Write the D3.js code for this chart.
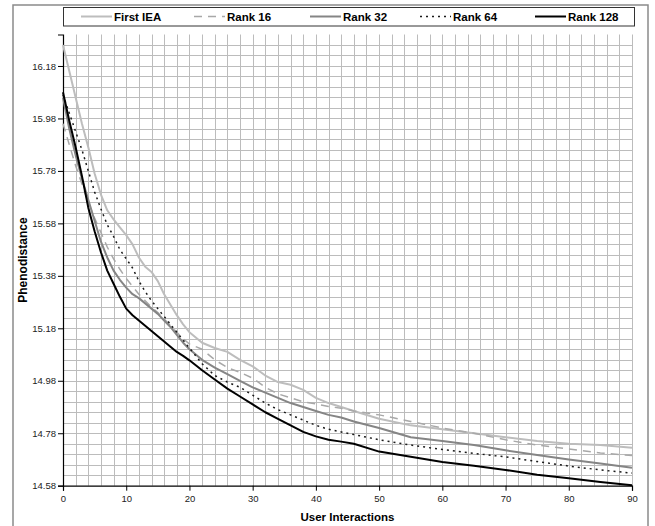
<!DOCTYPE html>
<html><head><meta charset="utf-8">
<script src="https://cdn.jsdelivr.net/npm/d3@7"></script>
<style>body{margin:0;background:#fff}svg{display:block}text{font-family:"Liberation Sans",Arial,sans-serif}</style>
</head><body><svg id="c" width="655" height="526"></svg>
<script>
const interactions = [0,1,2,3,4,5,6,7,8,9,10,11,12,13,14,15,16,17,18,19,20,22,24,26,28,30,32,34,36,38,40,42,44,46,50,55,60,65,70,75,80,85,90];
const firstIEA = [16.26,16.16,16.06,15.96,15.87,15.77,15.69,15.63,15.595,15.565,15.535,15.50,15.45,15.415,15.395,15.36,15.31,15.27,15.23,15.195,15.165,15.125,15.105,15.09,15.06,15.035,15.0,14.975,14.965,14.945,14.915,14.895,14.88,14.865,14.835,14.81,14.795,14.78,14.765,14.75,14.74,14.735,14.725];
const rank16 = [15.96,15.88,15.80,15.73,15.66,15.60,15.545,15.49,15.445,15.405,15.37,15.34,15.31,15.285,15.26,15.24,15.215,15.19,15.165,15.14,15.12,15.10,15.06,15.03,15.012,14.99,14.955,14.93,14.915,14.90,14.892,14.882,14.875,14.865,14.85,14.825,14.80,14.78,14.755,14.735,14.72,14.705,14.695];
const rank32 = [16.06,15.94,15.84,15.75,15.67,15.59,15.51,15.45,15.40,15.365,15.335,15.31,15.295,15.275,15.255,15.235,15.21,15.185,15.155,15.125,15.10,15.06,15.03,15.005,14.98,14.955,14.935,14.915,14.895,14.88,14.865,14.85,14.84,14.825,14.80,14.765,14.75,14.735,14.715,14.697,14.68,14.665,14.648];
const rank64 = [16.07,16.0,15.93,15.86,15.78,15.70,15.635,15.575,15.53,15.48,15.445,15.41,15.36,15.32,15.285,15.255,15.225,15.195,15.165,15.135,15.105,15.045,15.0,14.975,14.955,14.925,14.895,14.87,14.85,14.83,14.81,14.795,14.785,14.775,14.755,14.735,14.718,14.703,14.69,14.672,14.655,14.64,14.628];
const rank128 = [16.08,15.97,15.87,15.76,15.64,15.55,15.47,15.40,15.35,15.30,15.255,15.23,15.21,15.19,15.17,15.15,15.13,15.11,15.09,15.075,15.058,15.02,14.985,14.95,14.92,14.89,14.86,14.835,14.81,14.785,14.768,14.755,14.748,14.74,14.71,14.69,14.67,14.656,14.64,14.622,14.608,14.594,14.582];
const seriesNames = ["First IEA","Rank 16","Rank 32","Rank 64","Rank 128"];
const yTickLabels = ["14.58","14.78","14.98","15.18","15.38","15.58","15.78","15.98","16.18"];
const xTickLabels = [0,10,20,30,40,50,60,70,80,90];

const series = [
  {name:seriesNames[0], values:firstIEA, color:"#bdbdbd", width:2, dash:null},
  {name:seriesNames[1], values:rank16, color:"#a8a8a8", width:1.5, dash:"8,6"},
  {name:seriesNames[2], values:rank32, color:"#858585", width:2, dash:null},
  {name:seriesNames[3], values:rank64, color:"#1a1a1a", width:1.5, dash:"2,4"},
  {name:seriesNames[4], values:rank128, color:"#000", width:2, dash:null}
];

const svg = d3.select("#c");
// outer frame
svg.append("rect").attr("x",13).attr("y",5).attr("width",635).attr("height",530)
  .attr("fill","#fff").attr("stroke","#8a8a8a").attr("stroke-width",1.5);

const L=63, R=632, T=34.5, B=485.7;
const x = d3.scaleLinear().domain([0,90]).range([L,R]);
const y = d3.scaleLinear().domain([14.58,16.30]).range([B,T]);

const g = svg.append("g");
// grid
const vgrid = d3.range(2,91,2);
g.selectAll(".vg").data(vgrid).join("line")
  .attr("x1",d=>Math.round(x(d))+0.5).attr("x2",d=>Math.round(x(d))+0.5)
  .attr("y1",T).attr("y2",B).attr("stroke","#bcbcbc").attr("stroke-width",1);
const hgrid = d3.range(1,43).map(k=>14.58+0.04*k);
g.selectAll(".hg").data(hgrid).join("line")
  .attr("x1",L).attr("x2",R)
  .attr("y1",d=>Math.round(y(d))+0.5).attr("y2",d=>Math.round(y(d))+0.5)
  .attr("stroke","#bcbcbc").attr("stroke-width",1);

// axes
const yAxis = d3.axisLeft(y).tickValues(yTickLabels.map(Number)).tickSize(5).tickFormat(d3.format(".2f"));
const ya = svg.append("g").attr("transform",`translate(${L},0)`).call(yAxis);
const xAxis = d3.axisBottom(x).tickValues(xTickLabels).tickSize(5).tickFormat(d3.format("d"));
const xa = svg.append("g").attr("transform",`translate(0,${B})`).call(xAxis);
[ya,xa].forEach(a=>{
  a.select(".domain").attr("stroke","#000").attr("stroke-width",1.2);
  a.selectAll(".tick line").attr("stroke","#000");
  a.selectAll(".tick text").attr("font-family","Liberation Sans, Arial, sans-serif")
    .attr("font-size",9.5).attr("fill","#222");
});
ya.selectAll(".tick text").attr("x",-7);
xa.selectAll(".tick text").attr("y",10);

// lines
const line = d3.line().x((d,i)=>x(interactions[i])).y(d=>y(d));
series.forEach(s=>{
  svg.append("path").datum(s.values).attr("d",line).attr("fill","none")
    .attr("stroke",s.color).attr("stroke-width",s.width)
    .attr("stroke-dasharray",s.dash).attr("stroke-linejoin","round");
});

// axis titles
svg.append("text").attr("x",(L+R)/2).attr("y",521).attr("text-anchor","middle")
  .attr("font-weight","bold").attr("font-size",11.5).text("User Interactions");
svg.append("text").attr("transform",`translate(27,${(T+B)/2}) rotate(-90)`)
  .attr("text-anchor","middle").attr("font-weight","bold").attr("font-size",12).text("Phenodistance");

// legend
svg.append("rect").attr("x",63.5).attr("y",7.5).attr("width",571).attr("height",18.5)
  .attr("fill","#fff").attr("stroke","#333").attr("stroke-width",1);
const legX = [81,194,310,420,535];
series.forEach((s,i)=>{
  const lg = svg.append("g").attr("transform",`translate(${legX[i]},16.5)`);
  lg.append("line").attr("x1",0).attr("x2",31).attr("y1",0).attr("y2",0)
    .attr("stroke",s.color).attr("stroke-width",s.width).attr("stroke-dasharray",s.dash);
  lg.append("text").attr("x",33).attr("y",4.2).attr("font-weight","bold")
    .attr("font-size",11.5).text(s.name);
});
</script></body></html>
